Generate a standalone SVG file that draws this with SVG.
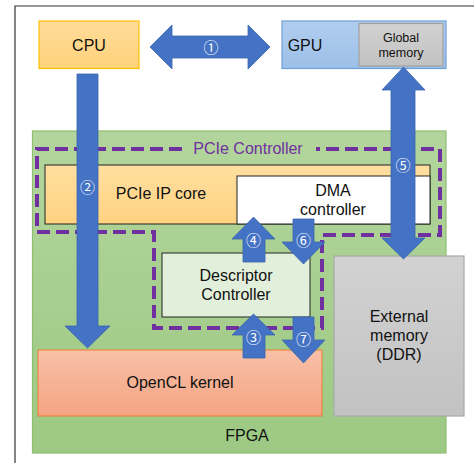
<svg xmlns="http://www.w3.org/2000/svg" width="474" height="463" viewBox="0 0 474 463">
  <defs>
    <linearGradient id="gCpu" x1="0" y1="0" x2="0" y2="1">
      <stop offset="0" stop-color="#FFDC9A"/>
      <stop offset="1" stop-color="#FFD27A"/>
    </linearGradient>
    <linearGradient id="gGpu" x1="0" y1="0" x2="0" y2="1">
      <stop offset="0" stop-color="#B0CDEE"/>
      <stop offset="1" stop-color="#9DC0E8"/>
    </linearGradient>
    <linearGradient id="gFpga" x1="0" y1="0" x2="0" y2="1">
      <stop offset="0" stop-color="#B3D59D"/>
      <stop offset="1" stop-color="#9CC983"/>
    </linearGradient>
    <linearGradient id="gKernel" x1="0" y1="0" x2="0" y2="1">
      <stop offset="0" stop-color="#F8C0A8"/>
      <stop offset="1" stop-color="#F4A482"/>
    </linearGradient>
    <linearGradient id="gGray" x1="0" y1="0" x2="0" y2="1">
      <stop offset="0" stop-color="#D2D2D2"/>
      <stop offset="1" stop-color="#C2C2C2"/>
    </linearGradient>
    <linearGradient id="gCore" x1="0" y1="0" x2="0" y2="1">
      <stop offset="0" stop-color="#FFDFA0"/>
      <stop offset="1" stop-color="#FFD280"/>
    </linearGradient>
  </defs>
  <style>
    text { font-family: "Liberation Sans", "Noto Sans CJK JP", sans-serif; fill: #111; text-anchor: middle; }
    .lbl { font-size: 16px; }
    .sm { font-size: 12.5px; }
    .num { font-size: 15px; fill: #fff; font-family: "Noto Sans CJK JP", "DejaVu Sans", sans-serif; }
    .arrow { fill: #4472C4; stroke: #3A64AE; stroke-width: 0.8; }
    .dash { fill: none; stroke: #7030A0; stroke-width: 4; stroke-dasharray: 13 6; }
  </style>

  <!-- page frame -->
  <path d="M15 463 V6 H474" fill="none" stroke="#333" stroke-width="1.2"/>

  <g id="cpu">
    <rect x="39" y="21" width="100" height="47.5" fill="url(#gCpu)" stroke="#FFC000" stroke-width="1.2"/>
    <text class="lbl" x="89" y="50.5">CPU</text>
  </g>

  <g id="gpu">
    <rect x="282" y="21" width="164" height="47.5" fill="url(#gGpu)" stroke="#6FA0D8" stroke-width="1.2"/>
    <text class="lbl" x="305" y="50.5">GPU</text>
  </g>

  <g id="global-memory">
    <rect x="359" y="23.5" width="84" height="42.5" fill="url(#gGray)" stroke="#A0A0A0" stroke-width="1.2"/>
    <text class="sm" x="401" y="42">Global</text>
    <text class="sm" x="401" y="57">memory</text>
  </g>

  <g id="fpga">
    <rect x="32.5" y="131" width="413.5" height="322" fill="url(#gFpga)" stroke="#8EBE6E" stroke-width="1.2"/>
    <text class="lbl" x="247" y="441">FPGA</text>
  </g>

  <g id="pcie-ip-core">
    <rect x="45" y="165" width="385" height="59" fill="url(#gCore)" stroke="#222" stroke-width="1"/>
    <text class="lbl" x="161" y="199">PCIe IP core</text>
  </g>

  <g id="dma-controller">
    <rect x="237" y="176" width="193" height="48" fill="#fff" stroke="#222" stroke-width="1"/>
    <text class="lbl" x="333" y="196">DMA</text>
    <text class="lbl" x="333" y="215">controller</text>
  </g>

  <g id="descriptor-controller">
    <rect x="162" y="253" width="148" height="64" fill="#E2EFDA" stroke="#222" stroke-width="1"/>
    <text class="lbl" x="236" y="281">Descriptor</text>
    <text class="lbl" x="236" y="300">Controller</text>
  </g>

  <g id="opencl-kernel">
    <rect x="38" y="350" width="284" height="66" fill="url(#gKernel)" stroke="#ED7D31" stroke-width="1"/>
    <text class="lbl" x="180" y="388">OpenCL kernel</text>
  </g>

  <g id="external-memory">
    <rect x="334" y="256" width="130" height="160" fill="url(#gGray)" stroke="#A8A8A8" stroke-width="1.2"/>
    <text class="lbl" x="399" y="322">External</text>
    <text class="lbl" x="399" y="341">memory</text>
    <text class="lbl" x="399" y="360">(DDR)</text>
  </g>

  <g id="pcie-controller">
    <path class="dash" d="M182 149 H37 V232 H154 V328 H322 V235 H440 V149 H316"/>
    <text class="lbl" x="248" y="154" style="fill:#7030A0">PCIe Controller</text>
  </g>

  <g id="connectors">
    <!-- 1: CPU <-> GPU -->
    <path class="arrow" d="M150 47 L172 25 V36 H248 V25 L270 47 L248 69 V58 H172 V69 Z"/>
    <text class="num" x="211" y="53">①</text>
    <!-- 2: CPU -> OpenCL kernel -->
    <path class="arrow" d="M77 74 H98 V326 H110 L87.5 348 L65 326 H77 Z"/>
    <text class="num" x="87.5" y="193">②</text>
    <!-- 5: global memory <-> external memory -->
    <path class="arrow" d="M403.5 67 L425 90 H415 V238 H425 L403.5 259 L382 238 H391 V90 H382 Z"/>
    <text class="num" x="403" y="171">⑤</text>
    <!-- 4: descriptor -> DMA -->
    <path class="arrow" d="M253.5 217 L275 239 H265 V262 H243 V239 H232 Z"/>
    <text class="num" x="253.5" y="246">④</text>
    <!-- 6: DMA -> descriptor -->
    <path class="arrow" d="M293 219 H314 V242 H325 L303.5 264 L282 242 H293 Z"/>
    <text class="num" x="303.5" y="246">⑥</text>
    <!-- 3: kernel -> descriptor -->
    <path class="arrow" d="M253.5 314 L275 335 H265 V358 H243 V335 H232 Z"/>
    <text class="num" x="253.5" y="343">③</text>
    <!-- 7: descriptor -> kernel -->
    <path class="arrow" d="M293 317 H314 V340 H325 L303.5 363 L282 340 H293 Z"/>
    <text class="num" x="303.5" y="345">⑦</text>
  </g>
</svg>
